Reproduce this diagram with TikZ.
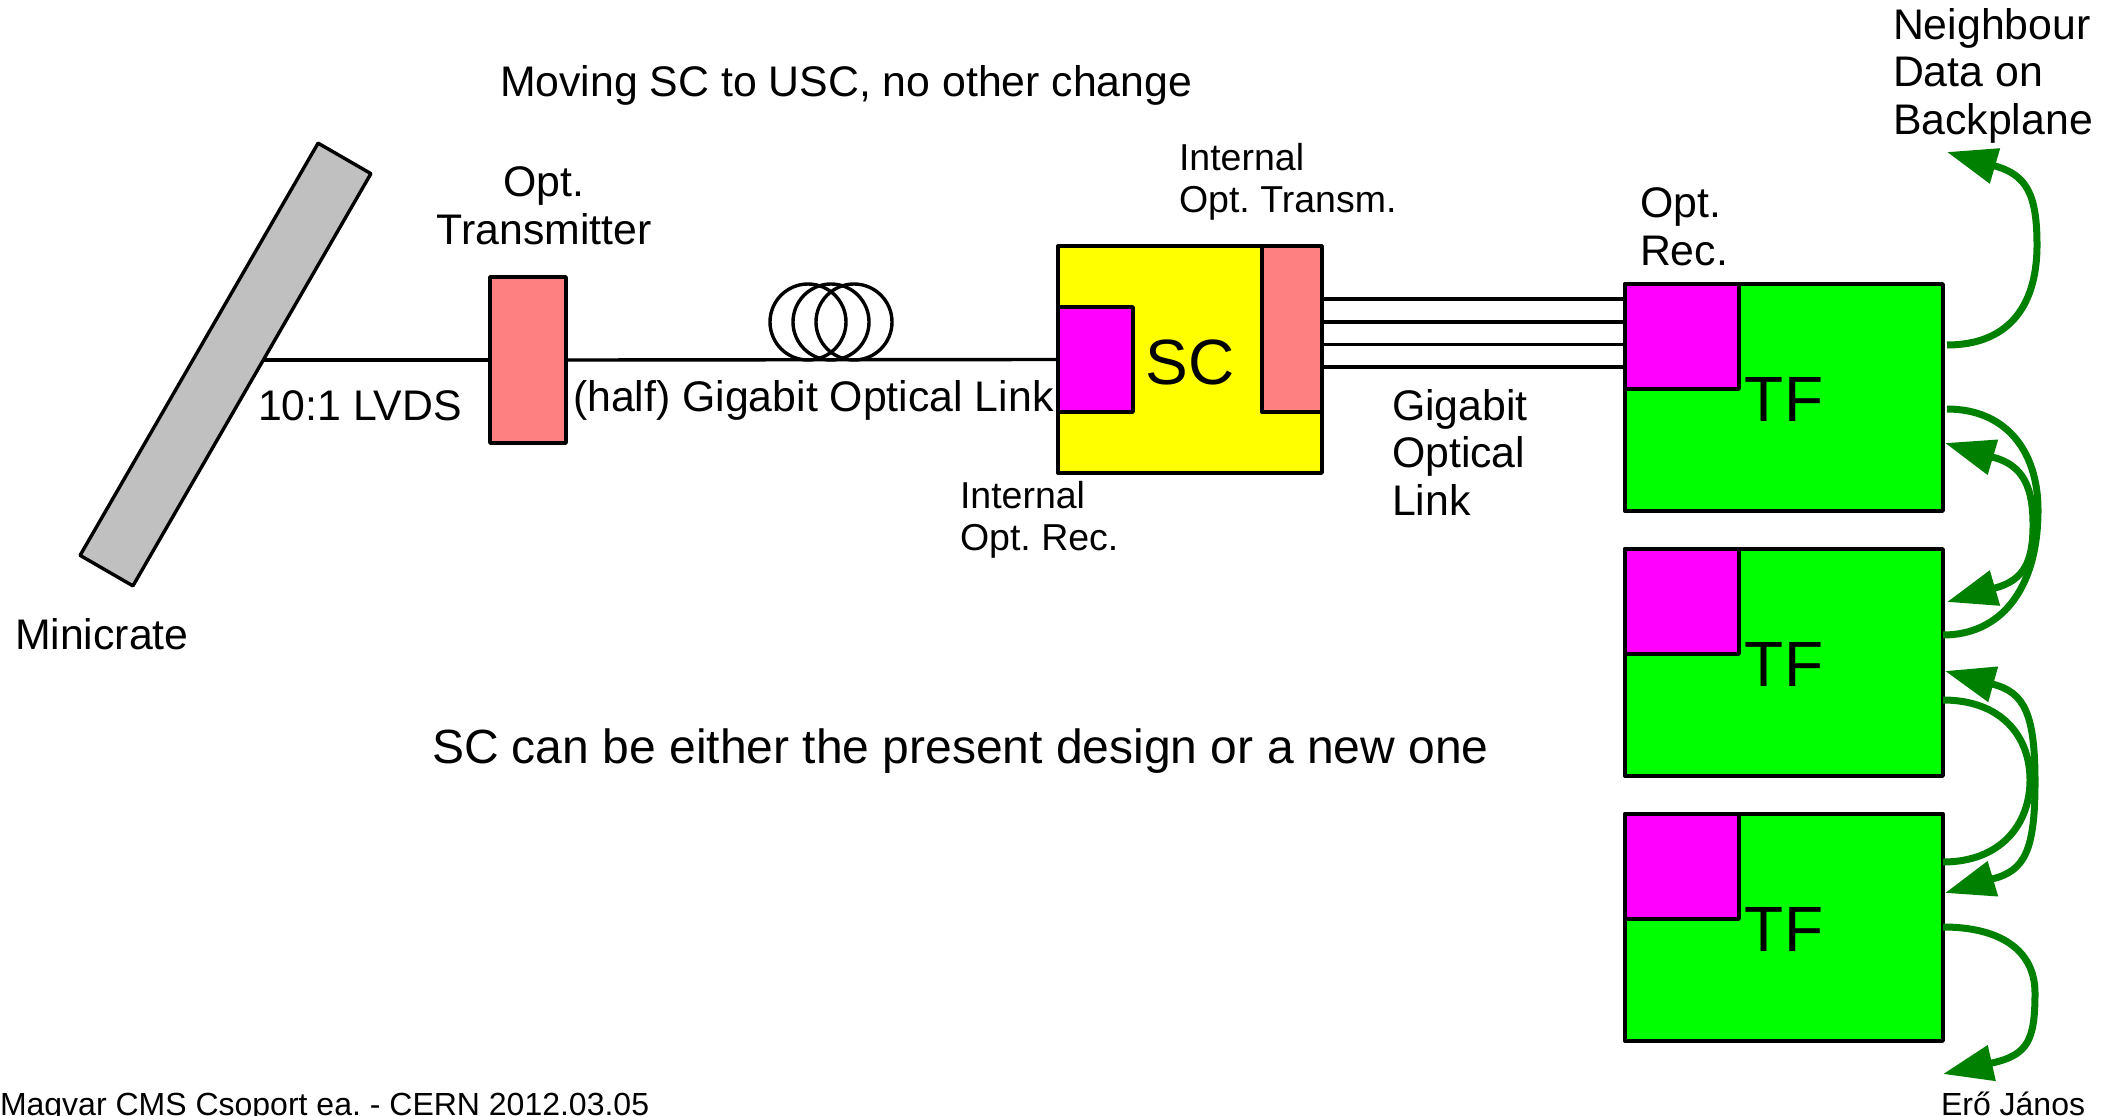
\documentclass[tikz,border=0pt]{standalone}
\usepackage{fontspec}
\setmainfont{Liberation Sans}
\usetikzlibrary{arrows.meta,positioning}
\definecolor{y}{HTML}{FFFF00}
\definecolor{g}{HTML}{00FF00}
\definecolor{m}{HTML}{FF00FF}
\definecolor{o}{HTML}{FF8080}
\definecolor{c}{HTML}{C0C0C0}
\definecolor{G}{HTML}{008000}
\frenchspacing
\begin{document}
\begin{tikzpicture}[x=1pt,y=-1pt,line width=3.4pt,line join=round,
  box/.style={draw=black,inner sep=0pt,outer sep=0pt},
  crate/.style={box,fill=c,minimum width=476pt,minimum height=61pt,rotate=60},
  tx/.style={box,fill=o},
  rx/.style={box,fill=m},
  sc/.style={box,fill=y,minimum width=264pt,minimum height=227pt,text height=50pt,font=\fontsize{64}{70}\selectfont},
  tf/.style={box,fill=g,minimum width=318pt,minimum height=227pt,text height=48pt,font=\fontsize{64}{70}\selectfont},
  txt/.style={inner sep=0pt,outer sep=0pt,align=left,font=\fontsize{42.8}{47.5}\selectfont},
  small/.style={txt,font=\fontsize{37.5}{42}\selectfont},
  foot/.style={txt,font=\fontsize{32}{36}\selectfont},
  arr/.style={draw=G,line width=7pt,>={Triangle[length=50pt,width=35pt]}}]
  \useasboundingbox (0,0) rectangle (2118,1116);
  \node[crate] (crate) at (225.5,364.5) {};
  \node[tx,minimum width=76pt,minimum height=166pt] (opttx) at (528,360) {};
  \node[sc] (sc) at (1190,359.5) {SC};
  \node[rx,minimum width=75pt,minimum height=105pt,anchor=west] (intrx) at (sc.west) {};
  \node[tx,minimum width=60pt,minimum height=166pt,anchor=north east] (inttx) at (sc.north east) {};
  \node[tf] (tfa) at (1784,397.5) {TF};
  \node[tf,below=38pt of tfa] (tfb) {TF};
  \node[tf,below=38pt of tfb] (tfc) {TF};
  \foreach \t in {a,b,c}
    \node[rx,minimum width=114pt,minimum height=105pt,anchor=north west] (rx\t) at (tf\t.north west) {};
  \coordinate (port) at (263.5,360);
  \draw (port) -- (opttx.west);
  \draw (opttx.east) -- (intrx.west);
  \foreach \x in {808,831,854}
    \draw (\x,322) circle[radius=38];
  \foreach \y in {299,322,344.5,367}
    \draw (sc.east |- 0,\y) -- (rxa.west |- 0,\y);
  \coordinate (outa) at (1947,345);
  \coordinate (top) at (1947,152);
  \coordinate (outb) at (1947,409);
  \coordinate (inb) at (1943,635);
  \coordinate (ba) at (1945,443);
  \coordinate (bb) at (1947,602);
  \coordinate (outc) at (1943,700);
  \coordinate (inc) at (1943,862);
  \coordinate (ca) at (1945,671);
  \coordinate (cb) at (1945,893);
  \coordinate (outd) at (1943,927);
  \coordinate (bot) at (1943,1074);
  \draw[arr,->] (outa) .. controls (2005,345) and (2037,310) .. (2037,245)
    .. controls (2037,195) and (2027,175) .. (1995,166) -- (top);
  \draw[arr] (outb) .. controls (2005,409) and (2038,450) .. (2038,510)
    .. controls (2038,590) and (2000,635) .. (inb);
  \draw[arr,<->] (ba) -- (1992,457) .. controls (2025,465) and (2033,490) .. (2033,525)
    .. controls (2033,560) and (2025,580) .. (1995,588) -- (bb);
  \draw[arr] (outc) .. controls (2000,700) and (2030,735) .. (2030,780)
    .. controls (2030,825) and (2000,862) .. (inc);
  \draw[arr,<->] (ca) -- (1992,684) .. controls (2025,692) and (2035,715) .. (2035,782)
    .. controls (2035,850) and (2025,871) .. (1992,879) -- (cb);
  \draw[arr,->] (outd) .. controls (2000,927) and (2035,950) .. (2035,993)
    .. controls (2035,1040) and (2028,1055) .. (1992,1063) -- (bot);
  \node[txt,anchor=base west] (title) at (500,96) {Moving SC to USC, no other change};
  \node[txt,anchor=north west] (neigh) at (1893,8) {Neighbour\\Data on\\Backplane};
  \node[txt,anchor=north,align=center] (opttxl) at (544,167) {Opt.\\Transmitter};
  \node[small,anchor=north west] (inttxl) at (1179,143.5) {Internal\\Opt. Transm.};
  \node[txt,anchor=north west] (optrxl) at (1640,188) {Opt.\\Rec.};
  \node[txt,anchor=base west] (lvds) at (258,420) {10:1 LVDS};
  \node[txt,anchor=base west] (link) at (573,411) {(half) Gigabit Optical Link};
  \node[small,anchor=north west] (intrxl) at (960,481) {Internal\\Opt. Rec.};
  \node[txt,anchor=north west] (linkb) at (1392,389) {Gigabit\\Optical\\Link};
  \node[txt,anchor=base west] (mini) at (15,649) {Minicrate};
  \node[txt,anchor=base west,font=\fontsize{48}{52}\selectfont] (note) at (432,763) {SC can be either the present design or a new one};
  \node[foot,anchor=base west] (footl) at (0,1115) {Magvar CMS Csoport ea. - CERN 2012.03.05};
  \node[foot,anchor=base west] (footr) at (1941,1115) {Erő János};
\end{tikzpicture}
\end{document}
